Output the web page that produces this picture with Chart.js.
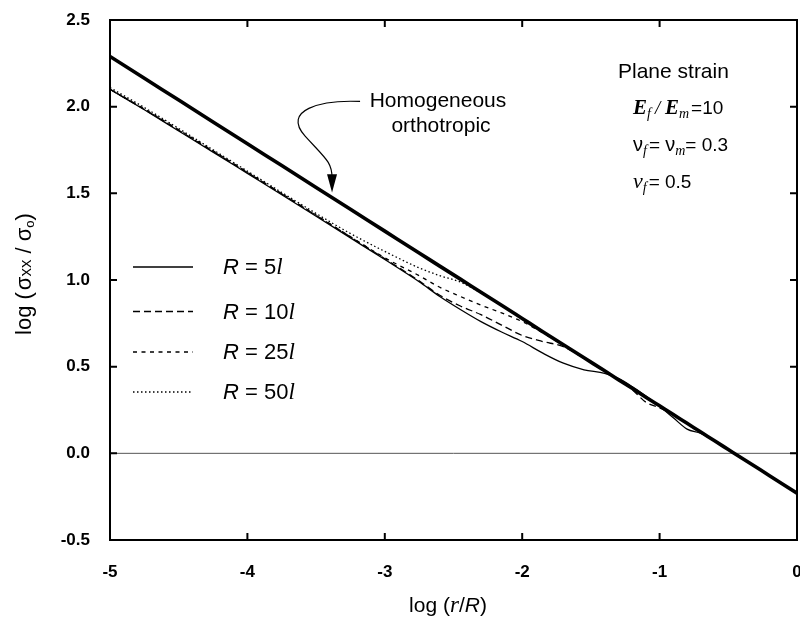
<!DOCTYPE html>
<html>
<head>
<meta charset="utf-8">
<script src="https://cdn.jsdelivr.net/npm/chart.js@4.4.1/dist/chart.umd.min.js"></script>
<style>
    html, body { margin: 0; padding: 0; background: #fff; }
    #wrap { width: 800px; height: 622px; }
</style>
</head>
<body>
<div id="wrap"><canvas id="stressChart" width="800" height="622"></canvas></div>
<script>
// log(r/R) positions shared by all curves
const logR = [-5, -4.75, -4.5, -4.25, -4, -3.75, -3.5, -3.25, -3, -2.75, -2.6, -2.45, -2.3, -2.15, -2,
    -1.85, -1.7, -1.55, -1.4, -1.3, -1.2, -1.1, -1.0, -0.9, -0.8, -0.7, -0.6, -0.5, -0.4, -0.2, 0];

// log(sigma_xx / sigma_o)
const homogeneous = [2.29, 2.164, 2.038, 1.912, 1.786, 1.66, 1.534, 1.408, 1.282, 1.156, 1.08, 1.005, 0.929, 0.854, 0.778,
    0.702, 0.627, 0.551, 0.476, 0.425, 0.375, 0.324, 0.274, 0.224, 0.173, 0.123, 0.072, 0.022, -0.028, -0.129, -0.23];
const r5 = [2.10, 1.982, 1.86, 1.738, 1.615, 1.492, 1.368, 1.243, 1.118, 0.99, 0.905, 0.83, 0.76, 0.70, 0.645,
    0.578, 0.52, 0.482, 0.462, 0.432, 0.385, 0.33, 0.272, 0.205, 0.14, 0.115, 0.07, 0.02, -0.028, -0.129, -0.23];
const r10 = [2.10, 1.984, 1.864, 1.742, 1.62, 1.497, 1.373, 1.248, 1.123, 0.995, 0.912, 0.85, 0.80, 0.74, 0.68,
    0.645, 0.615, 0.548, 0.472, 0.422, 0.368, 0.295, 0.262, 0.222, 0.172, 0.122, 0.072, 0.022, -0.028, -0.129, -0.23];
const r25 = [2.10, 1.987, 1.867, 1.745, 1.622, 1.498, 1.375, 1.25, 1.128, 1.025, 0.958, 0.905, 0.855, 0.81, 0.76,
    0.695, 0.622, 0.548, 0.474, 0.424, 0.375, 0.32, 0.27, 0.222, 0.172, 0.122, 0.072, 0.022, -0.028, -0.129, -0.23];
const r50 = [2.11, 1.995, 1.874, 1.751, 1.628, 1.505, 1.384, 1.268, 1.165, 1.07, 1.025, 0.988, 0.925, 0.852, 0.776,
    0.70, 0.625, 0.55, 0.475, 0.424, 0.374, 0.323, 0.273, 0.223, 0.172, 0.122, 0.072, 0.022, -0.028, -0.129, -0.23];

const seriesNames = ['Homogeneous orthotropic', 'R = 5l', 'R = 10l', 'R = 25l', 'R = 50l'];
const legendMultiples = ['5', '10', '25', '50'];

const SANS = '"Liberation Sans", Arial, sans-serif';
const SERIF = '"Liberation Serif", "Times New Roman", serif';

function toPoints(ys) {
    return logR.map((x, i) => ({ x: x, y: ys[i] }));
}

// draws a row of text pieces with their own fonts; align 'left' or 'center'
function drawRuns(ctx, runs, x, y, align) {
    let total = 0;
    runs.forEach(r => { ctx.font = r.font; r.w = ctx.measureText(r.t).width + (r.gap || 0); total += r.w; });
    let cx = align === 'center' ? x - total / 2 : x;
    runs.forEach(r => {
        ctx.font = r.font;
        ctx.fillText(r.t, cx, y + (r.dy || 0));
        cx += r.w;
    });
}

const framePlugin = {
    id: 'frame',
    beforeDatasetsDraw(chart) {
        const { ctx, chartArea: a, scales: { y } } = chart;
        const y0 = y.getPixelForValue(0);
        ctx.save();
        ctx.strokeStyle = '#555';
        ctx.lineWidth = 1;
        ctx.beginPath();
        ctx.moveTo(a.left, y0);
        ctx.lineTo(a.right, y0);
        ctx.stroke();
        ctx.restore();
    },
    afterDraw(chart) {
        const { ctx, chartArea: a, scales: { x, y } } = chart;
        ctx.save();
        ctx.strokeStyle = '#000';
        ctx.lineWidth = 2;
        ctx.strokeRect(a.left, a.top, a.right - a.left, a.bottom - a.top);

        // inward tick marks on all four sides
        ctx.beginPath();
        x.ticks.forEach(t => {
            const px = x.getPixelForValue(t.value);
            if (px <= a.left + 1 || px >= a.right - 1) return;
            ctx.moveTo(px, a.bottom); ctx.lineTo(px, a.bottom - 7);
            ctx.moveTo(px, a.top); ctx.lineTo(px, a.top + 7);
        });
        y.ticks.forEach(t => {
            const py = y.getPixelForValue(t.value);
            if (py <= a.top + 1 || py >= a.bottom - 1) return;
            ctx.moveTo(a.left, py); ctx.lineTo(a.left + 7, py);
            ctx.moveTo(a.right, py); ctx.lineTo(a.right - 7, py);
        });
        ctx.stroke();

        ctx.fillStyle = '#000';
        ctx.textBaseline = 'alphabetic';
        ctx.textAlign = 'left';

        // x axis title
        drawRuns(ctx, [
            { t: 'log (', font: '21px ' + SANS },
            { t: 'r', font: 'italic 23px ' + SERIF },
            { t: '/', font: '21px ' + SANS },
            { t: 'R', font: 'italic 21px ' + SANS },
            { t: ')', font: '21px ' + SANS }
        ], 448, 612, 'center');

        // y axis title, rotated
        ctx.save();
        ctx.translate(31, 274);
        ctx.rotate(-Math.PI / 2);
        drawRuns(ctx, [
            { t: 'log (', font: '22px ' + SANS, gap: 2 },
            { t: 'σ', font: '22px ' + SANS },
            { t: 'xx', font: '17px ' + SANS },
            { t: ' / ', font: '22px ' + SANS },
            { t: 'σ', font: '22px ' + SANS },
            { t: 'o', font: '13px ' + SANS, dy: 3 },
            { t: ')', font: '22px ' + SANS }
        ], 0, 0, 'center');
        ctx.restore();

        // legend, drawn from the dataset styles
        const rows = [267, 311.5, 352, 392];
        chart.data.datasets.slice(1).forEach((ds, i) => {
            const ly = rows[i];
            ctx.save();
            ctx.strokeStyle = '#000';
            ctx.lineWidth = 1.5;
            ctx.setLineDash(ds.borderDash || []);
            ctx.beginPath();
            ctx.moveTo(133, ly);
            ctx.lineTo(193, ly);
            ctx.stroke();
            ctx.restore();
            drawRuns(ctx, [
                { t: 'R', font: 'italic 22px ' + SANS },
                { t: ' = ', font: '22px ' + SANS },
                { t: legendMultiples[i], font: '22px ' + SANS },
                { t: 'l', font: 'italic 23px ' + SERIF }
            ], 223, ly + 7, 'left');
        });

        // parameter block
        ctx.font = '21px ' + SANS;
        ctx.fillText('Plane strain', 618, 78);
        drawRuns(ctx, [
            { t: 'E', font: 'bold italic 21px ' + SERIF },
            { t: 'f', font: 'italic 14px ' + SERIF, dy: 4, gap: 4 },
            { t: '/ ', font: 'italic 19px ' + SERIF },
            { t: 'E', font: 'bold italic 21px ' + SERIF },
            { t: 'm', font: 'italic 14px ' + SERIF, dy: 4, gap: 2 },
            { t: '=10', font: '19px ' + SANS }
        ], 633, 114, 'left');
        drawRuns(ctx, [
            { t: 'ν', font: '20px ' + SANS },
            { t: 'f', font: 'italic 14px ' + SERIF, dy: 4, gap: 2 },
            { t: '= ', font: '19px ' + SANS },
            { t: 'ν', font: '20px ' + SANS },
            { t: 'm', font: 'italic 14px ' + SERIF, dy: 4 },
            { t: '= 0.3', font: '19px ' + SANS }
        ], 633, 151, 'left');
        drawRuns(ctx, [
            { t: 'v', font: 'italic 22px ' + SERIF },
            { t: 'f', font: 'italic 14px ' + SERIF, dy: 4, gap: 2 },
            { t: '= 0.5', font: '19px ' + SANS }
        ], 633, 188, 'left');

        // label and curved arrow for the homogeneous line
        ctx.textAlign = 'center';
        ctx.font = '21px ' + SANS;
        ctx.fillText('Homogeneous', 438, 107);
        ctx.fillText('orthotropic', 441, 132);

        const px = v => x.getPixelForValue(v);
        const py = v => y.getPixelForValue(v);
        ctx.lineWidth = 1.2;
        ctx.beginPath();
        ctx.moveTo(px(-3.18), py(2.03));
        ctx.bezierCurveTo(px(-3.47), py(2.04), px(-3.75), py(1.98), px(-3.58), py(1.83));
        ctx.bezierCurveTo(px(-3.43), py(1.70), px(-3.384), py(1.68), px(-3.384), py(1.59));
        ctx.stroke();
        ctx.beginPath();
        ctx.moveTo(px(-3.384) - 5, py(1.61));
        ctx.lineTo(px(-3.384) + 5, py(1.61));
        ctx.lineTo(px(-3.384), py(1.505));
        ctx.closePath();
        ctx.fill();
        ctx.restore();
    }
};

const thin = 1.3;
new Chart(document.getElementById('stressChart').getContext('2d'), {
    type: 'line',
    data: {
        datasets: [
            { label: seriesNames[0], data: toPoints(homogeneous), borderColor: '#000', borderWidth: 3.6 },
            { label: seriesNames[1], data: toPoints(r5), borderColor: '#000', borderWidth: thin },
            { label: seriesNames[2], data: toPoints(r10), borderColor: '#000', borderWidth: thin, borderDash: [7, 4] },
            { label: seriesNames[3], data: toPoints(r25), borderColor: '#000', borderWidth: thin, borderDash: [4, 4.5] },
            { label: seriesNames[4], data: toPoints(r50), borderColor: '#000', borderWidth: thin, borderDash: [1.5, 2.5] }
        ]
    },
    options: {
        responsive: false,
        animation: false,
        devicePixelRatio: 1,
        layout: { padding: { top: 20, right: 3, left: 0, bottom: 0 } },
        elements: {
            point: { radius: 0 },
            line: { cubicInterpolationMode: 'monotone', fill: false }
        },
        plugins: {
            legend: { display: false },
            tooltip: { enabled: false }
        },
        scales: {
            x: {
                type: 'linear',
                min: -5,
                max: 0,
                ticks: {
                    stepSize: 1,
                    maxRotation: 0,
                    color: '#000',
                    padding: 22,
                    font: { family: SANS, size: 17, weight: 'bold' }
                },
                grid: { drawOnChartArea: false, drawTicks: false },
                border: { display: true, color: '#000', width: 2 },
                afterFit(s) { s.height = 82; s.paddingLeft = 0; s.paddingRight = 0; }
            },
            y: {
                min: -0.5,
                max: 2.5,
                ticks: {
                    stepSize: 0.5,
                    color: '#000',
                    padding: 20,
                    font: { family: SANS, size: 17, weight: 'bold' },
                    callback: v => v.toFixed(1)
                },
                grid: { drawOnChartArea: false, drawTicks: false },
                border: { display: true, color: '#000', width: 2 },
                afterFit(s) { s.width = 110; s.paddingTop = 0; s.paddingBottom = 0; }
            }
        }
    },
    plugins: [framePlugin]
});
</script>
</body>
</html>
